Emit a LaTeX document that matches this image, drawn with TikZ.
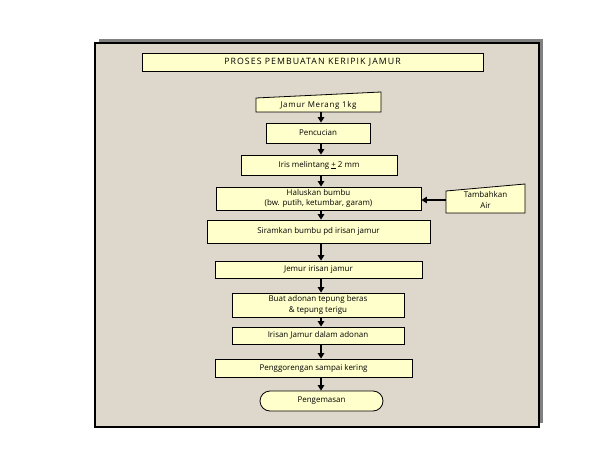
\documentclass[tikz,border=0pt]{standalone}
\usepackage{fontspec}
\setmainfont{Open Sans}
\usetikzlibrary{positioning, arrows.meta}

\definecolor{panelbg}{RGB}{222,216,204}
\definecolor{boxfill}{RGB}{255,255,204}
\definecolor{shadowgray}{RGB}{128,128,128}

\tikzset{
  stepbox/.style={draw=black, fill=boxfill, line width=0.8bp, inner sep=0pt,
    align=center, font=\fontsize{8}{10.5}\selectfont},
  inputbox/.style={stepbox, draw=none, fill=none},
  flow/.style={-{Triangle[width=6.5bp,length=5.5bp]}, line width=2bp},
}

\begin{document}
\begin{tikzpicture}[x=1bp,y=-1bp]
  \useasboundingbox (0,0) rectangle (612,468);

  % panel with shadow
  \fill[shadowgray] (99,39) rectangle (543,423);
  \draw[fill=panelbg, line width=1.2bp] (95,43) rectangle (539,427);

  \node[stepbox, minimum width=341bp, minimum height=18bp,
    font=\fontsize{8.8}{10}\selectfont\addfontfeatures{LetterSpace=12}] (judul) at (312.5,62)
    {PROSES PEMBUATAN KERIPIK JAMUR};

  % manual input shapes
  \filldraw[fill=boxfill, line width=0.8bp] (256,112) -- (381,112) -- (381,92) -- (256,98) -- cycle;
  \node[inputbox, minimum width=125bp, minimum height=14bp,
    font=\fontsize{8}{10.5}\selectfont\addfontfeatures{LetterSpace=8}] (jamur) at (318.5,105) {Jamur Merang 1kg};

  \filldraw[fill=boxfill, line width=0.8bp] (446,213) -- (525,213) -- (525,184) -- (446,191) -- cycle;
  \node[inputbox, minimum width=79bp, minimum height=18bp] (tambah) at (485.5,200) {Tambahkan\\Air};

  % process steps
  \node[stepbox, minimum width=104bp, minimum height=20bp] (cuci) at (318,133) {Pencucian};
  \node[stepbox, minimum width=156bp, minimum height=20bp] (iris) at (319,165) {Iris melintang \underline{+} 2 mm};
  \node[stepbox, minimum width=205bp, minimum height=23bp] (halus) at (318.5,198.5) {Haluskan bumbu\\(bw. putih, ketumbar, garam)};
  \node[stepbox, minimum width=223bp, minimum height=23bp] (siram) at (318.5,231.5) {Siramkan bumbu pd irisan jamur};
  \node[stepbox, minimum width=207bp, minimum height=17bp] (jemur) at (318.5,269.5) {Jemur irisan jamur};
  \node[stepbox, minimum width=172bp, minimum height=24bp] (adonan) at (318,305) {Buat adonan tepung beras\\\& tepung terigu};
  \node[stepbox, minimum width=172bp, minimum height=17bp] (celup) at (318,335.5) {Irisan Jamur dalam adonan};
  \node[stepbox, minimum width=197bp, minimum height=18bp] (goreng) at (313.5,368) {Penggorengan sampai kering};
  \node[stepbox, rounded corners=10bp, minimum width=123bp, minimum height=20bp] (kemas) at (321.5,401) {Pengemasan};

  % arrows
  \coordinate (poros) at (321,0);
  \foreach \a/\b in {jamur/cuci, cuci/iris, iris/halus, halus/siram, siram/jemur,
                     jemur/adonan, adonan/celup, celup/goreng, goreng/kemas}
    \draw[flow] (\a.south -| poros) -- (\b.north -| poros);
  \draw[flow] (tambah.west) -- (halus.east |- tambah.west);
\end{tikzpicture}
\end{document}
